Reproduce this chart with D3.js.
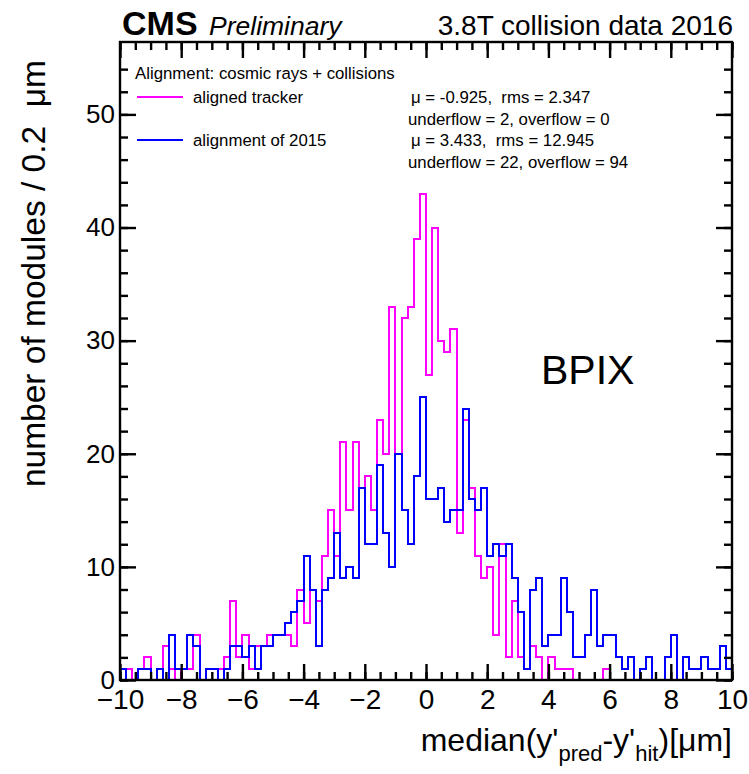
<!DOCTYPE html>
<html>
<head>
<meta charset="utf-8">
<script src="https://cdn.jsdelivr.net/npm/d3@7"></script>
<style>
  body { margin: 0; background: #ffffff; }
  text { font-family: "Liberation Sans", Arial, Helvetica, sans-serif; fill: #000; }
</style>
</head>
<body>
<svg id="chart" width="749" height="774"></svg>
<script>
// Distribution of median residuals, 100 bins of 0.2 um between -10 and 10 um
const binStart = -10;
const binWidth = 0.2;

// Module counts per bin: aligned tracker (2016)
const alignedTracker = [
  1, 1, 0, 1, 2, 0, 0, 3, 1, 0,
  1, 1, 4, 0, 1, 1, 1, 2, 7, 2,
  4, 1, 3, 3, 4, 4, 4, 4, 3, 8,
  5, 8, 7, 11, 15, 11, 21, 15, 21, 17,
  18, 15, 23, 20, 33, 20, 32, 33, 39, 43,
  27, 40, 30, 29, 31, 13, 23, 17, 11, 9,
  10, 4, 12, 2, 7, 2, 1, 3, 2, 0,
  2, 1, 1, 1, 0, 0, 0, 0, 0, 1,
  0, 0, 0, 0, 0, 0, 0, 0, 0, 0,
  0, 0, 0, 0, 0, 0, 0, 0, 0, 0
];

// Module counts per bin: alignment of 2015
const alignment2015 = [
  1, 0, 0, 1, 1, 0, 1, 0, 4, 1,
  1, 4, 3, 0, 1, 1, 0, 1, 3, 3,
  2, 3, 1, 3, 3, 4, 4, 5, 6, 7,
  11, 8, 3, 8, 9, 13, 9, 10, 9, 17,
  12, 12, 19, 13, 10, 20, 15, 12, 18, 25,
  16, 16, 17, 14, 15, 15, 24, 16, 15, 17,
  11, 12, 11, 12, 9, 6, 1, 8, 9, 3,
  4, 4, 9, 6, 2, 2, 4, 8, 3, 4,
  4, 2, 1, 2, 0, 1, 2, 0, 0, 2,
  4, 0, 2, 1, 1, 2, 1, 1, 3, 1
];

const seriesNames = ["aligned tracker", "alignment of 2015"];
const seriesColors = ["#ff00ff", "#0000ff"];
const seriesStats = [
  ["\u03bc = -0.925,  rms = 2.347", "underflow = 2, overflow = 0"],
  ["\u03bc = 3.433,  rms = 12.945", "underflow = 22, overflow = 94"]
];

const xTickValues = [-10, -8, -6, -4, -2, 0, 2, 4, 6, 8, 10];
const xMinorStep = 0.5;
const yTickValues = [0, 10, 20, 30, 40, 50];
const yMinorStep = 2;
const xDomain = [-10, 10];
const yDomain = [0, 56.4];

const svg = d3.select("#chart");
const plot = { left: 120, right: 732, top: 42, bottom: 680 };

const x = d3.scaleLinear().domain(xDomain).range([plot.left, plot.right]);
const y = d3.scaleLinear().domain(yDomain).range([plot.bottom, plot.top]);

const minus = s => String(s).replace("-", "\u2212");

// clip for the histogram outlines
svg.append("defs").append("clipPath").attr("id", "plotClip")
  .append("rect")
  .attr("x", plot.left).attr("y", plot.top)
  .attr("width", plot.right - plot.left).attr("height", plot.bottom - plot.top);

// histogram outlines as step lines
const stepLine = d3.line()
  .x(d => x(d[0]))
  .y(d => y(d[1]))
  .curve(d3.curveStepAfter);

function histPoints(values) {
  const pts = [[binStart, 0]];
  values.forEach((v, i) => pts.push([binStart + i * binWidth, v]));
  const end = binStart + values.length * binWidth;
  pts.push([end, values[values.length - 1]]);
  pts.push([end, 0]);
  return pts;
}

const histG = svg.append("g").attr("clip-path", "url(#plotClip)");
[alignedTracker, alignment2015].forEach((vals, i) => {
  histG.append("path")
    .attr("d", stepLine(histPoints(vals)))
    .attr("fill", "none")
    .attr("stroke", seriesColors[i])
    .attr("stroke-width", 2)
    .attr("shape-rendering", "crispEdges");
});

// axes: major and minor ticks on all four sides, pointing inward
const xMinor = d3.range(xDomain[0], xDomain[1] + 1e-9, xMinorStep);
const yMinor = d3.range(yDomain[0], 56, yMinorStep);

function styleAxis(size) {
  return g => {
    g.select(".domain").remove();
    g.selectAll("line").attr("stroke", "#000").attr("stroke-width", 2.4);
    g.selectAll("text").style("font-size", size + "px")
      .style("font-family", '"Liberation Sans", Arial, sans-serif');
  };
}

svg.append("g").attr("transform", `translate(0,${plot.bottom})`)
  .call(d3.axisBottom(x).tickValues(xMinor).tickSizeInner(-8).tickSizeOuter(0).tickFormat(""))
  .call(styleAxis(28));
svg.append("g").attr("transform", `translate(0,${plot.bottom})`)
  .call(d3.axisBottom(x).tickValues(xTickValues).tickSizeInner(-16).tickSizeOuter(0).tickPadding(9).tickFormat(minus))
  .call(styleAxis(28));
svg.append("g").attr("transform", `translate(0,${plot.top})`)
  .call(d3.axisTop(x).tickValues(xMinor).tickSizeInner(-8).tickSizeOuter(0).tickFormat(""))
  .call(styleAxis(28));
svg.append("g").attr("transform", `translate(0,${plot.top})`)
  .call(d3.axisTop(x).tickValues(xTickValues).tickSizeInner(-16).tickSizeOuter(0).tickFormat(""))
  .call(styleAxis(28));

svg.append("g").attr("transform", `translate(${plot.left},0)`)
  .call(d3.axisLeft(y).tickValues(yMinor).tickSizeInner(-8).tickSizeOuter(0).tickFormat(""))
  .call(styleAxis(26));
svg.append("g").attr("transform", `translate(${plot.left},0)`)
  .call(d3.axisLeft(y).tickValues(yTickValues).tickSizeInner(-16).tickSizeOuter(0).tickPadding(5).tickFormat(d3.format("d")))
  .call(styleAxis(26));
svg.append("g").attr("transform", `translate(${plot.right},0)`)
  .call(d3.axisRight(y).tickValues(yMinor).tickSizeInner(-8).tickSizeOuter(0).tickFormat(""))
  .call(styleAxis(26));
svg.append("g").attr("transform", `translate(${plot.right},0)`)
  .call(d3.axisRight(y).tickValues(yTickValues).tickSizeInner(-16).tickSizeOuter(0).tickFormat(""))
  .call(styleAxis(26));

// frame
svg.append("rect")
  .attr("x", plot.left).attr("y", plot.top)
  .attr("width", plot.right - plot.left).attr("height", plot.bottom - plot.top)
  .attr("fill", "none").attr("stroke", "#000").attr("stroke-width", 2.4);

// axis titles
const xTitle = svg.append("text")
  .attr("x", plot.right).attr("y", 751)
  .attr("text-anchor", "end")
  .style("font-size", "32px");
xTitle.append("tspan").text("median(y'");
xTitle.append("tspan").attr("dy", 10).style("font-size", "22px").text("pred");
xTitle.append("tspan").attr("dy", -10).text("-y'");
xTitle.append("tspan").attr("dy", 10).style("font-size", "22px").text("hit");
xTitle.append("tspan").attr("dy", -10).text(")[\u03bcm]");

svg.append("text")
  .attr("transform", "translate(45,60) rotate(-90)")
  .attr("text-anchor", "end")
  .style("font-size", "33.5px")
  .style("white-space", "pre")
  .text("number of modules / 0.2  \u03bcm");

// header
svg.append("text").attr("x", 122).attr("y", 35)
  .style("font-size", "34px").style("font-weight", "bold").text("CMS");
svg.append("text").attr("x", 209).attr("y", 35)
  .style("font-size", "26.5px").style("font-style", "italic").text("Preliminary");
svg.append("text").attr("x", 733).attr("y", 35).attr("text-anchor", "end")
  .style("font-size", "28px").text("3.8T collision data 2016");

// legend
const legendFont = "16.8px";
svg.append("text").attr("x", 135).attr("y", 79)
  .style("font-size", legendFont).text("Alignment: cosmic rays + collisions");

const legendRows = [97, 140];
legendRows.forEach((ly, i) => {
  svg.append("line")
    .attr("x1", 137).attr("x2", 183).attr("y1", ly).attr("y2", ly)
    .attr("stroke", seriesColors[i]).attr("stroke-width", 2);
  svg.append("text").attr("x", 193).attr("y", ly + 6)
    .style("font-size", legendFont).text(seriesNames[i]);
  svg.append("text").attr("x", 411).attr("y", ly + 6)
    .style("font-size", legendFont).style("white-space", "pre").text(seriesStats[i][0]);
  svg.append("text").attr("x", 408).attr("y", ly + 28)
    .style("font-size", legendFont).text(seriesStats[i][1]);
});

// detector label
svg.append("text").attr("x", 541).attr("y", 384)
  .style("font-size", "41px").text("BPIX");
</script>
</body>
</html>
